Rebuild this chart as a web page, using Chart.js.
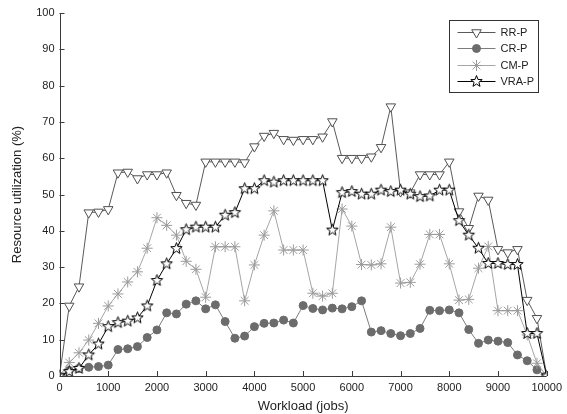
<!DOCTYPE html>
<html>
<head>
<meta charset="utf-8">
<script src="https://cdn.jsdelivr.net/npm/chart.js@4.4.1/dist/chart.umd.min.js"></script>
<style>
    html, body { margin: 0; padding: 0; background: #fff; }
    #wrap { width: 567px; height: 414px; position: relative; }
</style>
</head>
<body>
<div id="wrap"><canvas id="chart" width="567" height="414"></canvas></div>
<script>
// Workload (jobs) sample points
const jobs = [0, 200, 400, 600, 800, 1000, 1200, 1400, 1600, 1800,
    2000, 2200, 2400, 2600, 2800, 3000, 3200, 3400, 3600, 3800,
    4000, 4200, 4400, 4600, 4800, 5000, 5200, 5400, 5600, 5800,
    6000, 6200, 6400, 6600, 6800, 7000, 7200, 7400, 7600, 7800,
    8000, 8200, 8400, 8600, 8800, 9000, 9200, 9400, 9600, 9800, 10000];

const rrP = [0, 19.3, 24.6, 45.0, 45.2, 45.9, 56.0, 56.2, 54.4, 55.5,
    55.5, 56.0, 49.8, 47.6, 47.1, 59.0, 59.0, 59.0, 59.0, 58.8,
    63.2, 66.1, 66.9, 65.2, 65.0, 65.2, 65.2, 65.9, 70.1, 60.0,
    60.0, 60.0, 60.4, 63.0, 74.2, 50.8, 50.5, 55.5, 55.5, 55.5,
    59.0, 45.3, 40.7, 49.6, 48.5, 34.9, 34.0, 34.9, 20.9, 15.9, 0];

const crP = [0, 1.5, 2.1, 2.4, 2.6, 3.0, 7.3, 7.5, 8.1, 10.6,
    12.7, 17.4, 17.1, 19.8, 20.7, 18.5, 19.6, 15.0, 10.4, 11.0,
    13.6, 14.5, 14.6, 15.4, 14.6, 19.4, 18.6, 18.2, 18.7, 18.5,
    19.1, 20.7, 12.1, 12.5, 11.7, 11.1, 11.7, 13.1, 18.1, 18.0,
    18.2, 17.4, 12.8, 9.0, 9.9, 9.6, 9.2, 5.8, 4.2, 1.7, 0];

const cmP = [0, 3.7, 6.4, 9.9, 14.5, 19.3, 22.6, 25.9, 28.7, 35.2,
    43.6, 41.5, 38.8, 31.6, 29.4, 21.7, 35.6, 35.6, 35.6, 20.7,
    30.6, 38.8, 45.5, 34.7, 34.7, 34.7, 22.8, 22.0, 22.8, 46.0,
    41.3, 30.7, 30.6, 30.9, 41.0, 25.6, 25.8, 30.8, 39.0, 39.0,
    30.9, 20.9, 21.1, 29.7, 35.7, 18.0, 18.0, 18.0, 11.3, 3.5, 0];

const vraP = [0, 1.2, 2.1, 5.8, 8.8, 13.6, 14.7, 15.1, 16.0, 19.3,
    26.3, 30.9, 35.1, 40.3, 41.0, 41.0, 41.0, 44.3, 45.0, 51.6,
    51.6, 53.8, 53.4, 53.8, 53.8, 53.8, 53.8, 53.8, 40.2, 50.5,
    50.8, 50.1, 50.1, 51.2, 50.8, 51.2, 50.1, 49.4, 49.6, 51.2,
    51.2, 42.8, 38.8, 35.2, 31.0, 31.0, 30.7, 30.7, 11.7, 11.7, 0];

const seriesNames = ['RR-P', 'CR-P', 'CM-P', 'VRA-P'];
const seriesData = [rrP, crP, cmP, vraP];

const xTicks = [0, 1000, 2000, 3000, 4000, 5000, 6000, 7000, 8000, 9000, 10000];
const yTicks = [0, 10, 20, 30, 40, 50, 60, 70, 80, 90, 100];

const FONT = "Arial, 'Liberation Sans', sans-serif";

// five-pointed star marker drawn on a small canvas
function makeStar(r) {
    const size = Math.ceil(r * 2 + 3);
    const c = document.createElement('canvas');
    c.width = size;
    c.height = size;
    const g = c.getContext('2d');
    const cx = size / 2, cy = size / 2;
    g.beginPath();
    for (let i = 0; i < 10; i++) {
        const rad = i % 2 === 0 ? r : r * 0.42;
        const a = -Math.PI / 2 + i * Math.PI / 5;
        const px = cx + rad * Math.cos(a);
        const py = cy + rad * Math.sin(a);
        if (i === 0) g.moveTo(px, py); else g.lineTo(px, py);
    }
    g.closePath();
    g.fillStyle = '#fff';
    g.fill();
    g.lineWidth = 1;
    g.strokeStyle = '#000';
    g.stroke();
    return c;
}
const starImg = makeStar(6);

const styles = [
    { line: '#5a5a5a', pointStyle: 'triangle', rotation: 180, radius: 5.5, bg: '#fff', border: '#505050', order: 4 },
    { line: '#7c7c7c', pointStyle: 'circle', rotation: 0, radius: 4, bg: '#6c6c6c', border: '#6c6c6c', order: 3 },
    { line: '#a6a6a6', pointStyle: 'star', rotation: 0, radius: 5.5, bg: '#a0a0a0', border: '#9a9a9a', order: 2 },
    { line: '#000', pointStyle: starImg, rotation: 0, radius: 6, bg: '#fff', border: '#000', order: 1 }
];

const datasets = seriesNames.map((name, i) => ({
    label: name,
    data: jobs.map((j, k) => ({ x: j, y: seriesData[i][k] })),
    borderColor: styles[i].line,
    borderWidth: 1,
    pointStyle: styles[i].pointStyle,
    rotation: styles[i].rotation,
    pointRadius: styles[i].radius,
    pointBackgroundColor: styles[i].bg,
    pointBorderColor: styles[i].border,
    pointBorderWidth: 1,
    tension: 0,
    fill: false,
    order: styles[i].order
}));

// inward ticks, axis lines and the boxed legend
const matlabAxes = {
    id: 'matlabAxes',
    afterDraw(chart) {
        const ctx = chart.ctx;
        const a = chart.chartArea;
        const xs = chart.scales.x, ys = chart.scales.y;
        ctx.save();
        ctx.strokeStyle = '#3a3a3a';
        ctx.lineWidth = 1;
        ctx.beginPath();
        ctx.moveTo(Math.round(a.left) + 0.5, a.top);
        ctx.lineTo(Math.round(a.left) + 0.5, Math.round(a.bottom) + 0.5);
        ctx.lineTo(a.right, Math.round(a.bottom) + 0.5);
        for (const t of xTicks) {
            const px = Math.round(xs.getPixelForValue(t)) + 0.5;
            ctx.moveTo(px, a.bottom);
            ctx.lineTo(px, a.bottom - 5);
        }
        for (const t of yTicks) {
            const py = Math.round(ys.getPixelForValue(t)) + 0.5;
            ctx.moveTo(a.left, py);
            ctx.lineTo(a.left + 5, py);
        }
        ctx.stroke();

        // legend
        const lx = 449.5, ly = 20.5, lw = 89, lh = 72;
        ctx.fillStyle = '#fff';
        ctx.fillRect(lx, ly, lw, lh);
        ctx.strokeStyle = '#333';
        ctx.strokeRect(lx, ly, lw, lh);
        ctx.font = '11px ' + FONT;
        ctx.textBaseline = 'middle';
        seriesNames.forEach((name, i) => {
            const y = Math.round(ly + 11 + i * 16.5) + 0.5;
            ctx.lineWidth = 1;
            ctx.strokeStyle = styles[i].line;
            ctx.beginPath();
            ctx.moveTo(lx + 8, y);
            ctx.lineTo(lx + 46, y);
            ctx.stroke();
            ctx.fillStyle = styles[i].bg;
            ctx.strokeStyle = styles[i].border;
            Chart.helpers.drawPoint(ctx, {
                pointStyle: styles[i].pointStyle,
                rotation: styles[i].rotation,
                radius: styles[i].radius,
                borderWidth: 1
            }, lx + 27, y);
            ctx.fillStyle = '#222';
            ctx.fillText(name, lx + 51, y);
        });
        ctx.restore();
    }
};

new Chart(document.getElementById('chart'), {
    type: 'line',
    data: { datasets },
    plugins: [matlabAxes],
    options: {
        responsive: false,
        animation: false,
        events: [],
        layout: { padding: { left: 0, top: 13, right: 18, bottom: 0 } },
        plugins: { legend: { display: false }, tooltip: { enabled: false } },
        scales: {
            x: {
                type: 'linear',
                min: 0,
                max: 10000,
                afterBuildTicks(scale) { scale.ticks = xTicks.map(v => ({ value: v })); },
                afterFit(scale) { scale.height = 38; },
                grid: { display: false, drawTicks: false },
                border: { display: false },
                ticks: {
                    color: '#222',
                    font: { family: FONT, size: 11 },
                    padding: 5,
                    maxRotation: 0,
                    autoSkip: false,
                    callback: v => String(v)
                },
                title: {
                    display: true,
                    text: 'Workload (jobs)',
                    color: '#222',
                    font: { family: FONT, size: 13 },
                    padding: { top: 0, bottom: 0 }
                }
            },
            y: {
                min: 0,
                max: 100,
                afterBuildTicks(scale) { scale.ticks = yTicks.map(v => ({ value: v })); },
                afterFit(scale) { scale.width = 59.5; },
                grid: { display: false, drawTicks: false },
                border: { display: false },
                ticks: {
                    color: '#222',
                    font: { family: FONT, size: 11 },
                    padding: 5,
                    autoSkip: false,
                    callback: v => String(v)
                },
                title: {
                    display: true,
                    text: 'Resource utilization (%)',
                    color: '#222',
                    font: { family: FONT, size: 13 },
                    padding: { top: 10, bottom: 0 }
                }
            }
        }
    }
});
</script>
</body>
</html>
